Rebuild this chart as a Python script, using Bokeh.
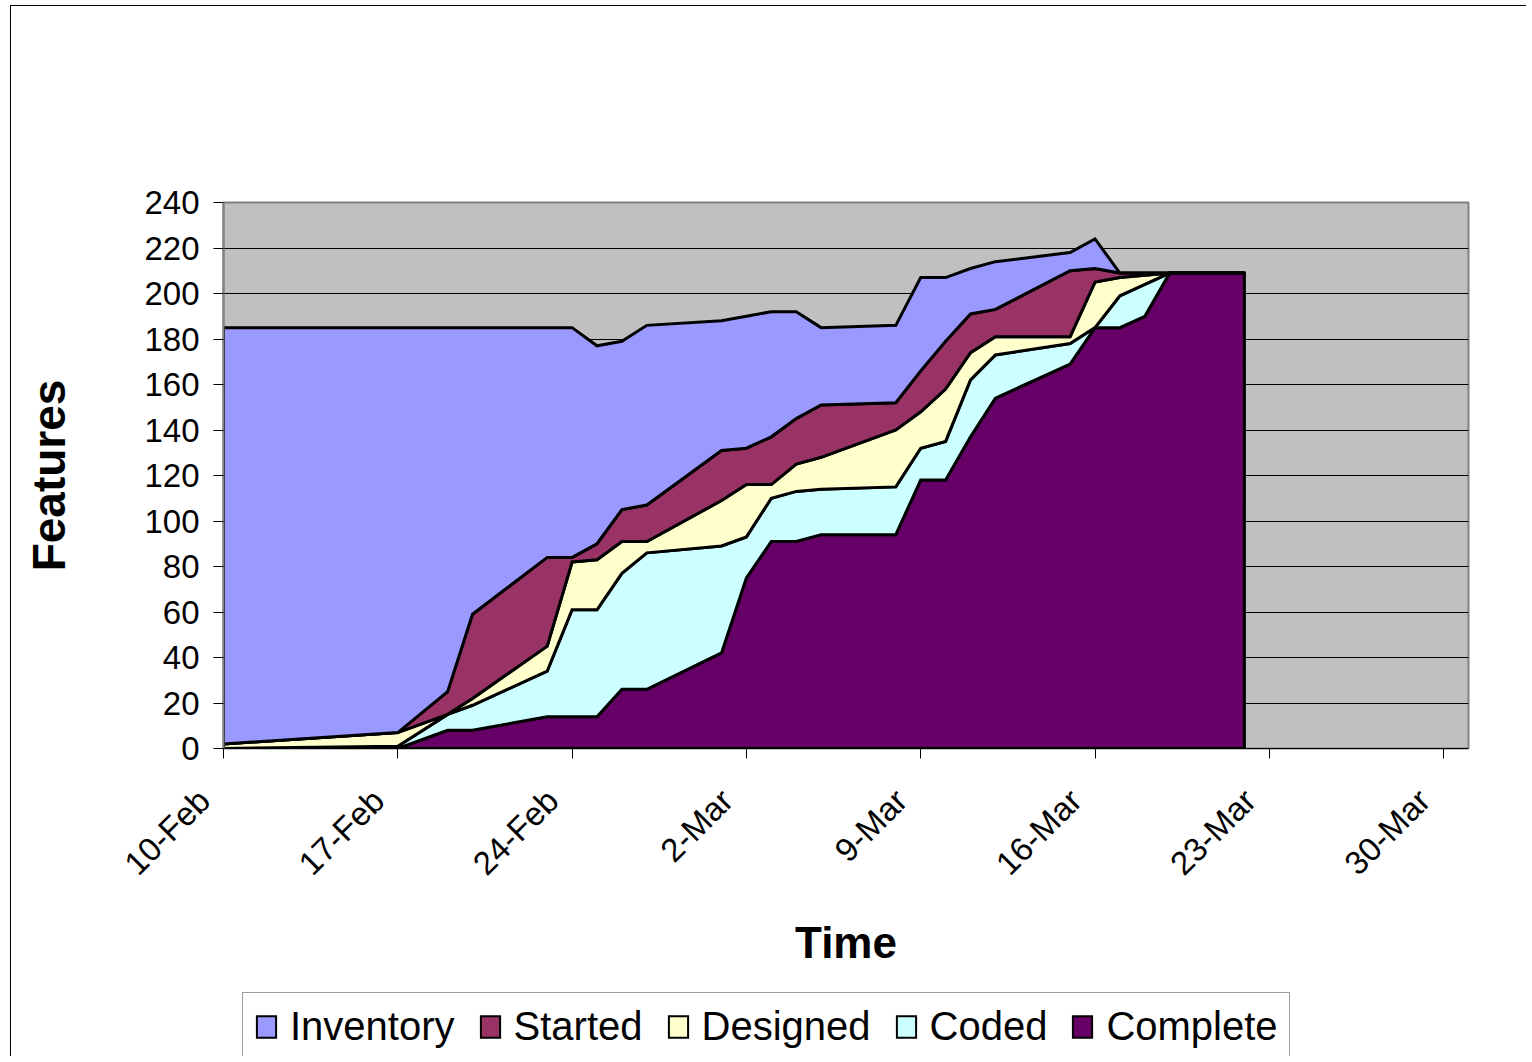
import math
from bokeh.plotting import figure
from bokeh.layouts import column
from bokeh.models import Range1d, FixedTicker, Legend, LegendItem
from bokeh.embed import file_html
from bokeh.resources import INLINE

# ---- data ----
days = [0, 7, 9, 10, 13, 14, 15, 16, 17, 20, 21, 22, 23, 24, 27, 28, 29, 30, 31, 34, 35, 36, 37, 38, 41]
complete = [0, 0, 8, 8, 14, 14, 14, 26, 26, 42, 75, 91, 91, 94, 94, 118, 118, 137, 154, 169, 185, 185, 190, 209, 209]
coded = [0, 1, 7, 11, 20, 47, 47, 51, 60, 47, 18, 19, 22, 20, 21, 14, 17, 25, 19, 9, 0, 14, 14, 0, 0]
designed = [2, 6, 0, 3, 11, 21, 22, 14, 5, 20, 23, 6, 12, 14, 25, 16, 23, 12, 8, 3, 20, 8, 4, 0, 0]
started = [0, 0, 10, 37, 39, 2, 7, 14, 16, 22, 16, 21, 20, 23, 12, 18, 21, 17, 12, 29, 6, 2, 1, 0, 0]
inventory = [183, 178, 160, 126, 101, 101, 87, 74, 79, 57, 58, 55, 47, 34, 34, 41, 28, 20, 21, 8, 13, 0, 0, 0, 0]

series_names = ["Complete", "Coded", "Designed", "Started", "Inventory"]
series_colors = ["#660066", "#CCFFFF", "#FFFFCC", "#993366", "#9999FF"]

tick_days = [0, 7, 14, 21, 28, 35, 42, 49]
tick_labels = ["10-Feb", "17-Feb", "24-Feb", "2-Mar", "9-Mar", "16-Mar", "23-Mar", "30-Mar"]
y_ticks = list(range(0, 241, 20))

FONT = "Liberation Sans"


def add_stack(fig, lw=3):
    bottom = [0] * len(days)
    rs = {}
    for name, vals, col in zip(series_names, [complete, coded, designed, started, inventory], series_colors):
        top = [b + v for b, v in zip(bottom, vals)]
        xs = list(days) + list(days[::-1])
        ys = top + bottom[::-1]
        rs[name] = fig.patch(xs, ys, fill_color=col, line_color="black", line_width=lw,
                             line_join="miter")
        bottom = top
    return rs


# ---- main chart ----
p = figure(width=1515, height=975, title=None, toolbar_location=None,
           output_backend="svg", x_range=Range1d(0, 50), y_range=Range1d(0, 240),
           min_border_left=212, min_border_top=196, min_border_right=58, min_border_bottom=233)

p.background_fill_color = "#C0C0C0"
p.border_fill_color = "white"
p.outline_line_color = "#808080"
p.outline_line_width = 2

add_stack(p)

NBSP = "\u00a0"
p.xaxis.ticker = FixedTicker(ticks=tick_days)
p.xaxis.major_label_overrides = {d: l + NBSP * 3 for d, l in zip(tick_days, tick_labels)}
p.xaxis.major_label_orientation = math.pi / 4
p.xaxis.minor_tick_line_color = None
p.yaxis.ticker = FixedTicker(ticks=y_ticks)
p.yaxis.minor_tick_line_color = None

for ax in (p.xaxis[0], p.yaxis[0]):
    ax.major_label_text_font = FONT
    ax.major_label_text_font_size = "33px"
    ax.major_label_text_color = "black"
    ax.major_tick_in = 0
    ax.major_tick_out = 10
    ax.major_tick_line_color = "black"
    ax.major_tick_line_width = 1
    ax.axis_label_text_font = FONT
    ax.axis_label_text_font_style = "bold"
    ax.axis_label_text_color = "black"

p.xaxis.axis_line_color = "black"
p.xaxis.axis_line_width = 1
p.yaxis.axis_line_color = "#808080"
p.yaxis.axis_line_width = 2
p.yaxis.major_label_standoff = 14
p.xaxis.major_label_standoff = 17

p.xaxis.axis_label = "Time"
p.xaxis.axis_label_text_font_size = "44px"
p.xaxis.axis_label_standoff = 20
p.yaxis.axis_label = "Features"
p.yaxis.axis_label_text_font_size = "46px"
p.yaxis.axis_label_standoff = 66

p.xgrid.grid_line_color = None
p.ygrid.ticker = FixedTicker(ticks=y_ticks)
p.ygrid.grid_line_color = "black"
p.ygrid.grid_line_width = 1

# ---- legend strip (own small canvas below the chart) ----
lf = figure(width=1515, height=75, title=None, toolbar_location=None, output_backend="svg",
            x_range=Range1d(1000, 1001), y_range=Range1d(1000, 1001),
            x_axis_location=None, y_axis_location=None, min_border=0)
lf.outline_line_color = None
lf.background_fill_color = "white"
lf.border_fill_color = "white"
lf.xgrid.visible = False
lf.ygrid.visible = False
lrs = add_stack(lf, lw=2)

order = ["Inventory", "Started", "Designed", "Coded", "Complete"]
legend = Legend(items=[LegendItem(label=n, renderers=[lrs[n]]) for n in order],
                orientation="horizontal", location=(19, -5),
                label_text_font=FONT, label_text_font_size="40px", label_text_color="black",
                glyph_width=24, glyph_height=27, label_standoff=12, spacing=23,
                padding=11, margin=0,
                border_line_color="#404040", border_line_width=1,
                background_fill_color="white", background_fill_alpha=1)
lf.add_layout(legend, "center")

layout = column(p, lf, spacing=0)
layout.styles = {"border-left": "1px solid black", "border-top": "1px solid black",
                 "margin-left": "10px", "margin-top": "5px"}

open("out.html", "w").write(file_html(layout, INLINE))
